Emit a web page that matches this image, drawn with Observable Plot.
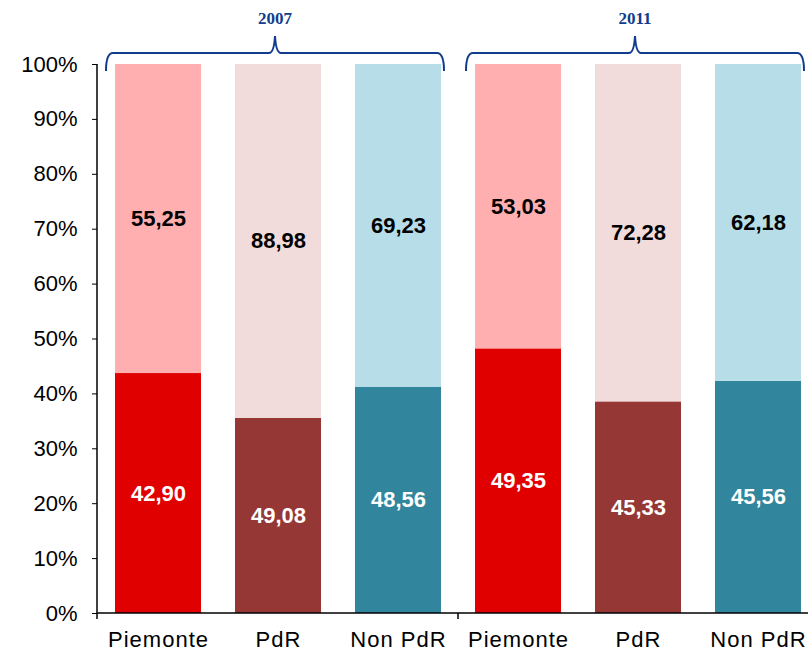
<!DOCTYPE html>
<html>
<head>
<meta charset="utf-8">
<script src="https://cdn.jsdelivr.net/npm/d3@7"></script>
<script src="https://cdn.jsdelivr.net/npm/@observablehq/plot@0.6"></script>
<style>
  html, body { margin: 0; padding: 0; overflow: hidden; background: #fff; }
  svg { max-width: none !important; }
</style>
</head>
<body>
<div id="chart"></div>
<script>
const regions = ["Piemonte", "PdR", "Non PdR"];
const years = ["2007", "2011"];
const lowerValues = [42.90, 49.08, 48.56, 49.35, 45.33, 45.56];
const upperValues = [55.25, 88.98, 69.23, 53.03, 72.28, 62.18];

const darkColors = {"Piemonte": "#E00000", "PdR": "#953735", "Non PdR": "#31859C"};
const lightColors = {"Piemonte": "#FFAFB0", "PdR": "#F2DCDB", "Non PdR": "#B7DEE8"};

const rows = [];
const keys = [];
years.forEach((yr, yi) => {
  regions.forEach((rg, ri) => {
    const i = yi * regions.length + ri;
    const key = yr + "|" + rg;
    keys.push(key);
    rows.push({key, year: yr, region: rg, part: "lower", value: lowerValues[i], color: darkColors[rg], textColor: "#ffffff"});
    rows.push({key, year: yr, region: rg, part: "upper", value: upperValues[i], color: lightColors[rg], textColor: "#000000"});
  });
});

const fmt = v => v.toFixed(2).replace(".", ",");

const W = 818, H = 653, ML = 97, MT = 64, MB = 40;

const plot = Plot.plot({
  width: W,
  height: H,
  marginLeft: ML,
  marginRight: 0,
  marginTop: MT,
  marginBottom: MB,
  style: {fontFamily: "'Liberation Sans', Arial, sans-serif", fontSize: "22px", color: "#000", background: "#fff", maxWidth: "none", overflow: "visible"},
  x: {domain: keys, paddingInner: 0.286, paddingOuter: 0.143, label: null,
      tickFormat: k => k.split("|")[1], tickSize: 0, tickPadding: 18},
  y: {domain: [0, 1], ticks: d3.range(0, 11).map(d => d / 10), tickFormat: d => Math.round(d * 100) + "%",
      label: null, tickSize: 5, tickPadding: 15},
  color: {type: "identity"},
  marks: [
    Plot.barY(rows, Plot.stackY({x: "key", y: "value", z: "part", fill: "color", offset: "normalize"})),
    Plot.text(rows, Plot.stackY({x: "key", y: "value", z: "part", offset: "normalize",
      text: d => fmt(d.value), fill: "textColor", fontWeight: "bold", fontSize: 22}))
  ]
});

document.getElementById("chart").appendChild(plot);

const svg = d3.select(plot);
// slight letter spacing on category labels, as in the reference
svg.selectAll("[aria-label='x-axis tick label'] text, [aria-label='x-axis'] text").attr("letter-spacing", "1px");

// axis lines, group separators and year braces drawn with the plot's own scales
const xs = plot.scale("x");
const ys = plot.scale("y");
const y0 = ys.apply(0), y1 = ys.apply(1);
const bw = xs.bandwidth, step = xs.step;
const g = svg.append("g").attr("fill", "none");
g.append("line").attr("x1", ML).attr("x2", ML).attr("y1", y0).attr("y2", y1).attr("stroke", "#000").attr("stroke-width", 1.5);
g.append("line").attr("x1", ML).attr("x2", W).attr("y1", y0).attr("y2", y0).attr("stroke", "#000").attr("stroke-width", 1.5);

const seps = [ML, xs.apply(keys[3]) - (step - bw) / 2, W];
seps.forEach(sx => {
  g.append("line").attr("x1", sx).attr("x2", sx).attr("y1", y0).attr("y2", y0 + 6).attr("stroke", "#000").attr("stroke-width", 1.5);
});

years.forEach((yr, yi) => {
  const first = keys[yi * 3], last = keys[yi * 3 + 2];
  const xa = xs.apply(first) - 9;
  const xb = xs.apply(last) + bw + 3;
  const xm = (xa + xb) / 2;
  const yTip = y1 + 7, yLine = y1 - 11, yPeak = y1 - 28;
  const p = d3.path();
  p.moveTo(xa, yTip);
  p.quadraticCurveTo(xa, yLine, xa + 7, yLine);
  p.lineTo(xm - 6, yLine);
  p.quadraticCurveTo(xm - 1, yLine, xm, yPeak);
  p.quadraticCurveTo(xm + 1, yLine, xm + 6, yLine);
  p.lineTo(xb - 7, yLine);
  p.quadraticCurveTo(xb, yLine, xb, yTip);
  g.append("path").attr("d", p.toString()).attr("stroke", "#123C8C").attr("stroke-width", 2);
  svg.append("text").attr("x", xm).attr("y", y1 - 40).attr("text-anchor", "middle")
    .attr("font-family", "'Liberation Serif', 'DejaVu Serif', serif").attr("font-weight", "bold")
    .attr("font-size", 17).attr("fill", "#123C8C").text(yr);
});
</script>
</body>
</html>
